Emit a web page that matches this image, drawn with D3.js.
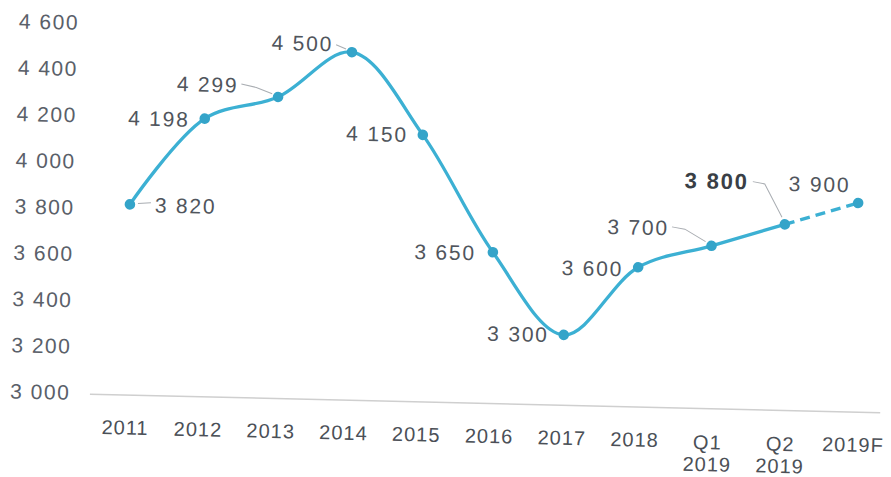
<!DOCTYPE html>
<html>
<head>
<meta charset="utf-8">
<script src="https://cdn.jsdelivr.net/npm/d3@7"></script>
<style>
  html, body { margin: 0; padding: 0; background: #fff; }
  svg { display: block; font-family: "Liberation Sans", Arial, sans-serif; }
</style>
</head>
<body>
<svg id="chart" width="891" height="477"></svg>
<script>
// Yearly series, two 2019 quarters and a 2019 forecast
const categories = ["2011", "2012", "2013", "2014", "2015", "2016", "2017", "2018", "Q1 2019", "Q2 2019", "2019F"];
const values = [3820, 4198, 4299, 4500, 4150, 3650, 3300, 3600, 3700, 3800, 3900];
const yTicks = [3000, 3200, 3400, 3600, 3800, 4000, 4200, 4400, 4600];
const forecastStart = 9;      // the segment from this index on is a forecast
const boldLabels = [9];       // value labels drawn in bold

// Placement of each value label relative to its marker (and optional leader line)
const labelLayout = [
  { dx: 25, dy: 0, anchor: "start", leader: [[8, -1], [21, -2]] },
  { dx: -15, dy: 1, anchor: "end" },
  { dx: -40, dy: -11, anchor: "end", leader: [[-37, -12], [-22, -9], [-6, -3]] },
  { dx: -19, dy: -8, anchor: "end", leader: [[-16, -7], [-6, -3]] },
  { dx: -15, dy: 0, anchor: "end" },
  { dx: -17, dy: 1, anchor: "end" },
  { dx: -15, dy: 0, anchor: "end" },
  { dx: -15, dy: 2, anchor: "end" },
  { dx: -43, dy: -17, anchor: "end", leader: [[-40, -18], [-27, -16], [-6, -4]] },
  { dx: -37, dy: -42, anchor: "end", leader: [[-33, -42], [-21, -40], [-3, -7]] },
  { dx: -39, dy: -18, anchor: "middle" }
];

const lineColor = "#3cb0d3";
const markerColor = "#34a4c9";
const textColor = "#50555c";

const fmt = d3.formatLocale({ decimal: ".", thousands: " ", grouping: [3], currency: ["", ""] }).format(",");

const svg = d3.select("#chart");
const root = svg.append("g").attr("transform", "rotate(1.35, 445.5, 238.5)");

const x = d3.scalePoint().domain(categories).range([129.2, 857.2]);
const y = d3.scaleLinear().domain([3000, 4600]).range([401.5, 31.3]);

const pts = categories.map((c, i) => ({ c, v: values[i], i }));

// Y axis: labels only
const yAxis = root.append("g")
  .attr("transform", "translate(74,0)")
  .call(d3.axisLeft(y).tickValues(yTicks).tickSize(0).tickPadding(0).tickFormat(fmt));
yAxis.select(".domain").remove();
yAxis.selectAll("text")
  .attr("font-size", 21)
  .attr("letter-spacing", "1.5px")
  .attr("font-family", "\"Liberation Sans\", Arial, sans-serif")
  .attr("fill", "#5a6069");

// Baseline
const [x0, x1] = x.range();
root.append("line")
  .attr("x1", x0 - 35.5).attr("x2", x1 + 27)
  .attr("y1", y(3000) + 1).attr("y2", y(3000) + 1)
  .attr("stroke", "#cfcfcf").attr("stroke-width", 1.5);

// X axis labels
const xAxis = root.append("g")
  .attr("transform", `translate(0,${y(3000) + 1})`)
  .call(d3.axisBottom(x).tickSize(0).tickPadding(0));
xAxis.select(".domain").remove();
xAxis.selectAll("text").each(function (d) {
  const t = d3.select(this);
  const parts = d.split(" ");
  t.text(null)
    .attr("y", 0).attr("dy", null)
    .attr("font-size", 20)
    .attr("letter-spacing", "1px")
    .attr("font-family", "\"Liberation Sans\", Arial, sans-serif")
    .attr("fill", "#4b5057");
  if (parts.length === 1) {
    t.append("tspan").attr("x", 0).attr("y", 39.5).text(parts[0]);
  } else {
    t.append("tspan").attr("x", 0).attr("y", 40.5).text(parts[0]);
    t.append("tspan").attr("x", 0).attr("y", 62.5).text(parts[1]);
  }
});

// Leader lines
const leaderLine = d3.line();
pts.forEach(p => {
  const lay = labelLayout[p.i];
  if (!lay.leader) return;
  root.append("path")
    .attr("d", leaderLine(lay.leader.map(([a, b]) => [x(p.c) + a, y(p.v) + b])))
    .attr("fill", "none")
    .attr("stroke", "#a9adb2")
    .attr("stroke-width", 1);
});

// Actual series: smooth solid line
const smooth = d3.line().x(d => x(d.c)).y(d => y(d.v)).curve(d3.curveCatmullRom.alpha(0.5));
root.append("path")
  .datum(pts.slice(0, forecastStart + 1))
  .attr("d", smooth)
  .attr("fill", "none")
  .attr("stroke", lineColor)
  .attr("stroke-width", 3.3)
  .attr("stroke-linejoin", "round")
  .attr("stroke-linecap", "round");

// Forecast: dashed segment
root.append("path")
  .datum(pts.slice(forecastStart))
  .attr("d", d3.line().x(d => x(d.c)).y(d => y(d.v)))
  .attr("fill", "none")
  .attr("stroke", lineColor)
  .attr("stroke-width", 3.3)
  .attr("stroke-dasharray", "10 6");

// Markers
root.append("g").selectAll("circle")
  .data(pts)
  .join("circle")
  .attr("cx", d => x(d.c))
  .attr("cy", d => y(d.v))
  .attr("r", 5.3)
  .attr("fill", markerColor);

// Value labels
root.append("g").selectAll("text")
  .data(pts)
  .join("text")
  .attr("x", d => x(d.c) + labelLayout[d.i].dx)
  .attr("y", d => y(d.v) + labelLayout[d.i].dy)
  .attr("dy", "0.36em")
  .attr("text-anchor", d => labelLayout[d.i].anchor)
  .attr("font-size", d => boldLabels.includes(d.i) ? 22 : 21)
  .attr("font-weight", d => boldLabels.includes(d.i) ? "bold" : "normal")
  .attr("letter-spacing", "1.8px")
  .attr("fill", d => boldLabels.includes(d.i) ? "#3a3f46" : textColor)
  .text(d => fmt(d.v));
</script>
</body>
</html>
